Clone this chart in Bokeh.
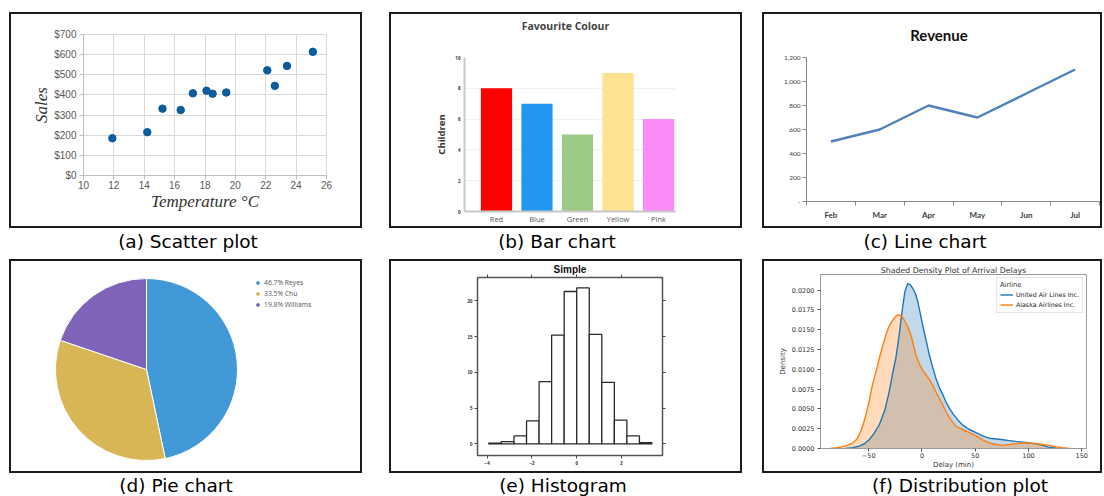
import math
from bokeh.plotting import figure
from bokeh.layouts import row, column
from bokeh.models import (Div, Spacer, Range1d, FixedTicker, NumeralTickFormatter,
                          LinearAxis, Legend, LegendItem, Plot)
from bokeh.embed import file_html
from bokeh.resources import INLINE

# ---------------- data ----------------
# (a) scatter
scatter_temp = [14.2, 16.4, 11.9, 15.2, 18.5, 22.1, 19.4, 25.1, 23.4, 18.1, 22.6, 17.2]
scatter_sales = [215, 325, 185, 332, 406, 522, 412, 614, 544, 421, 445, 408]
scatter_x_ticks = [10, 12, 14, 16, 18, 20, 22, 24, 26]
scatter_y_ticks = [0, 100, 200, 300, 400, 500, 600, 700]

# (b) bar
bar_title = "Favourite Colour"
bar_colours = ["Red", "Blue", "Green", "Yellow", "Pink"]
bar_children = [8, 7, 5, 9, 6]
bar_fill = ["#ff0000", "#2196f3", "#9dca86", "#fde28f", "#fb8cf7"]
bar_y_ticks = [0, 2, 4, 6, 8, 10]

# (c) line
line_title = "Revenue"
line_months = ["Feb", "Mar", "Apr", "May", "Jun", "Jul"]
line_revenue = [500, 600, 800, 700, 900, 1100]
line_y_ticks = [0, 200, 400, 600, 800, 1000, 1200]

# (d) pie
pie_names = ["Reyes", "Chu", "Williams"]
pie_percent = [46.7, 33.5, 19.8]
pie_colors = ["#4299d7", "#d9b655", "#7e63b8"]

# (e) histogram
hist_edges = [-3.93, -3.37, -2.80, -2.24, -1.68, -1.12, -0.56, 0.0,
              0.56, 1.12, 1.68, 2.24, 2.80, 3.36]
hist_heights = [0.1, 0.3, 1.1, 3.2, 8.7, 15.2, 21.3, 21.8, 15.3, 8.6, 3.3, 1.1, 0.15]
hist_x_ticks = [-4, -2, 0, 2]
hist_y_ticks = [0, 5, 10, 15, 20]

# (f) density
united_delay = [-72, -65, -59, -54, -49.5, -45, -40, -35, -31, -27.5, -24.5, -21.5, -18.5,
                -16, -13.5, -11, -8.5, -6, -4, -1.5, 0.5, 4, 7, 10, 13, 16, 19.5, 22.5,
                25.7, 29, 32, 35, 38, 41, 44.5, 50.8, 57, 63, 70, 76, 82, 88, 95, 101,
                107, 113.5, 118, 123, 127]
united_density = [0.0, 0.0001, 0.0003, 0.0006, 0.0011, 0.0019, 0.0030, 0.0048, 0.0070,
                  0.0095, 0.0114, 0.0142, 0.0175, 0.0198, 0.0208, 0.0207, 0.0202, 0.0195,
                  0.0186, 0.0170, 0.0157, 0.0136, 0.0118, 0.0103, 0.0089, 0.0078, 0.0068,
                  0.0059, 0.0051, 0.0044, 0.0039, 0.0034, 0.0030, 0.0027, 0.0024, 0.0020,
                  0.0016, 0.0013, 0.0012, 0.0011, 0.0010, 0.0009, 0.0008, 0.0007, 0.0006,
                  0.0004, 0.0002, 0.0001, 0.0]
alaska_delay = [-86, -80, -75, -70, -65, -61, -58, -55, -52.5, -49.5, -46.5, -43, -40, -37,
                -34, -31, -27.5, -24.5, -22, -19, -16.5, -13.5, -10.3, -8, -5.6, -2.5, 0.6,
                4, 7, 10, 13, 16, 19.5, 22.5, 25.7, 29, 32, 35, 38, 44.5, 50.8, 57, 63, 70,
                76, 82, 88, 95, 101, 107, 113.5, 120, 126, 132, 139]
alaska_density = [0.0, 0.0001, 0.0002, 0.0004, 0.0007, 0.0012, 0.0020, 0.0031, 0.0043,
                  0.0060, 0.0080, 0.0098, 0.0114, 0.0129, 0.0143, 0.0154, 0.0162, 0.0167,
                  0.0169, 0.0167, 0.0162, 0.0154, 0.0143, 0.0131, 0.0118, 0.0107, 0.0099,
                  0.0093, 0.0087, 0.0080, 0.0072, 0.0064, 0.0055, 0.0047, 0.0039, 0.0033,
                  0.0028, 0.0026, 0.0024, 0.0020, 0.0016, 0.0011, 0.0007, 0.0005, 0.0004,
                  0.0005, 0.0006, 0.0007, 0.0007, 0.0006, 0.0005, 0.0004, 0.0002, 0.0001, 0.0]
airlines = ["United Air Lines Inc.", "Alaska Airlines Inc."]
dens_x_ticks = [-50, 0, 50, 100, 150]
dens_y_ticks = [0, 0.0025, 0.005, 0.0075, 0.01, 0.0125, 0.015, 0.0175, 0.02]

captions_top = ["(a) Scatter plot", "(b) Bar chart", "(c) Line chart"]
captions_bottom = ["(d) Pie chart", "(e) Histogram", "(f) Distribution plot"]

# ---------------- helpers ----------------
HAS_FRAME_ALIGN = "frame_align" in Plot.properties()
BORDER = {"border": "2px solid #1c1c1c", "box-sizing": "border-box",
          "background-color": "white"}


def base(width, height, **kw):
    extra = {"frame_align": False} if HAS_FRAME_ALIGN else {}
    p = figure(width=width, height=height, output_backend="svg", toolbar_location=None,
               margin=0, **extra, **kw)
    p.background_fill_color = "white"
    p.border_fill_color = "white"
    return p


def panel(children, width, height):
    return column(*children, width=width, height=height, margin=0, styles=BORDER)


def title_div(text, width, height, pad_top, line_h, shift, font, size, color):
    html = (f'<div style="width:{width}px;padding-top:{pad_top}px;line-height:{line_h}px;'
            f'text-align:center;position:relative;left:{shift}px;font-family:\'{font}\';'
            f'font-size:{size}px;font-weight:bold;color:{color};white-space:nowrap;">'
            f'{text}</div>')
    return Div(text=html, width=width, height=height, margin=0)


# ---------------- (a) scatter ----------------
pa = base(349, 212, x_range=Range1d(scatter_x_ticks[0], scatter_x_ticks[-1]),
          y_range=Range1d(scatter_y_ticks[0], scatter_y_ticks[-1]),
          min_border_left=72, min_border_right=34, min_border_top=20, min_border_bottom=51)
pa.scatter(scatter_temp, scatter_sales, size=7.5, fill_color="#0b5c9e", line_color="#0b5c9e")
pa.xaxis.ticker = FixedTicker(ticks=scatter_x_ticks)
pa.yaxis.ticker = FixedTicker(ticks=scatter_y_ticks)
pa.yaxis.formatter = NumeralTickFormatter(format="$0")
for ax in (pa.xaxis, pa.yaxis):
    ax.axis_line_color = "#bfbfbf"
    ax.major_tick_line_color = "#bfbfbf"
    ax.major_tick_out = 4
    ax.major_tick_in = 0
    ax.minor_tick_line_color = None
    ax.major_label_text_font = "Liberation Sans"
    ax.major_label_text_font_size = "10px"
    ax.major_label_text_color = "#595959"
    ax.axis_label_text_font = "Liberation Serif"
    ax.axis_label_text_font_style = "italic"
    ax.axis_label_text_font_size = "17px"
    ax.axis_label_text_color = "#333333"
pa.xaxis.axis_label = "Temperature °C"
pa.yaxis.axis_label = "Sales"
pa.xaxis.major_label_standoff = 1
pa.yaxis.major_label_standoff = 3
pa.xaxis.axis_label_standoff = 0
pa.yaxis.axis_label_standoff = 0
pa.grid.grid_line_color = "#d9d9d9"
pa.outline_line_color = "#d9d9d9"

# ---------------- (b) bar ----------------
pb = base(349, 188, x_range=Range1d(-0.79, len(bar_colours) - 0.58), y_range=Range1d(0, 10),
          min_border_left=73, min_border_right=65, min_border_top=19, min_border_bottom=14)
bar_pos = list(range(len(bar_colours)))
pb.vbar(x=bar_pos, top=bar_children, width=0.77, fill_color=bar_fill, line_color=None)
pb.xaxis.ticker = FixedTicker(ticks=bar_pos)
pb.xaxis.major_label_overrides = {i: n for i, n in zip(bar_pos, bar_colours)}
pb.yaxis.ticker = FixedTicker(ticks=bar_y_ticks)
for ax in (pb.xaxis, pb.yaxis):
    ax.axis_line_color = "#c8c8c8"
    ax.axis_line_width = 2
    ax.major_tick_line_color = None
    ax.major_tick_out = 0
    ax.major_tick_in = 0
    ax.minor_tick_line_color = None
    ax.minor_tick_out = 0
pb.xaxis.major_label_text_font = "Open Sans"
pb.xaxis.major_label_text_font_size = "7.5px"
pb.xaxis.major_label_text_color = "#555555"
pb.xaxis.major_label_standoff = 2
pb.yaxis.major_label_text_font = "Open Sans"
pb.yaxis.major_label_text_font_size = "4.5px"
pb.yaxis.major_label_text_font_style = "bold"
pb.yaxis.major_label_text_color = "#333333"
pb.yaxis.major_label_standoff = 4
pb.yaxis.axis_label = "Children"
pb.yaxis.axis_label_text_font = "Open Sans"
pb.yaxis.axis_label_text_font_size = "9.5px"
pb.yaxis.axis_label_text_font_style = "bold"
pb.yaxis.axis_label_text_color = "#333333"
pb.yaxis.axis_label_standoff = 4
pb.xgrid.visible = False
pb.ygrid.grid_line_color = "#f0f0f0"
pb.outline_line_color = None
pb_title = title_div(bar_title, 349, 24, 2, 20, 0, "Open Sans", 10.5, "#444444")

# ---------------- (c) line ----------------
pc = base(336, 180, x_range=Range1d(-0.5, len(line_months) - 0.5),
          y_range=Range1d(line_y_ticks[0], line_y_ticks[-1]),
          min_border_left=42, min_border_right=1, min_border_top=11, min_border_bottom=25)
month_pos = list(range(len(line_months)))
pc.line(month_pos, line_revenue, line_color="#4f81bd", line_width=2.5)
pc.xaxis.ticker = FixedTicker(ticks=month_pos,
                              minor_ticks=[i - 0.5 for i in range(len(line_months) + 1)])
pc.xaxis.major_label_overrides = {i: m for i, m in zip(month_pos, line_months)}
pc.yaxis.ticker = FixedTicker(ticks=line_y_ticks)
pc.yaxis.formatter = NumeralTickFormatter(format="0,0")
pc.yaxis.major_label_overrides = {0: "-"}
for ax in (pc.xaxis, pc.yaxis):
    ax.axis_line_color = "#868686"
    ax.major_label_text_font = "Lato"
    ax.major_label_text_color = "#404040"
pc.xaxis.major_tick_line_color = None
pc.xaxis.major_tick_out = 0
pc.xaxis.minor_tick_line_color = "#868686"
pc.xaxis.minor_tick_out = 4
pc.xaxis.minor_tick_in = 0
pc.xaxis.major_label_standoff = 4
pc.xaxis.major_label_text_font_size = "8px"
pc.xaxis.major_label_text_font_style = "bold"
pc.yaxis.major_tick_line_color = "#868686"
pc.yaxis.major_tick_out = 4
pc.yaxis.major_tick_in = 0
pc.yaxis.minor_tick_line_color = None
pc.yaxis.major_label_standoff = 2
pc.yaxis.major_label_text_font_size = "6.5px"
pc.grid.visible = False
pc.outline_line_color = None
pc_title = title_div(line_title, 336, 32, 11, 20, 7, "Lato", 15, "#111111")

# ---------------- (d) pie ----------------
pdp = base(349, 210, x_range=Range1d(-135 / 91, 214 / 91), y_range=Range1d(-102 / 91, 108 / 91),
           x_axis_location=None, y_axis_location=None, min_border=0)
pdp.grid.visible = False
pdp.outline_line_color = None
starts, ends, cum = [], [], 0.0
for pct in pie_percent:
    starts.append(math.pi / 2 - 2 * math.pi * cum / 100)
    cum += pct
    ends.append(math.pi / 2 - 2 * math.pi * cum / 100)
pdp.wedge(x=0, y=0, radius=1, start_angle=starts, end_angle=ends, direction="clock",
          fill_color=pie_colors, line_color="white", line_width=1)
pie_items = []
for name, pct, col in zip(pie_names, pie_percent, pie_colors):
    r = pdp.scatter(x=[float("nan")], y=[float("nan")], marker="circle", size=5.5,
                    fill_color=col, line_color=col)
    pie_items.append(LegendItem(label=f"{pct}% {name}", renderers=[r]))
pie_legend = Legend(items=pie_items, location=(243, 161), padding=0, margin=0, spacing=0,
                    label_height=11, glyph_height=11, glyph_width=7, label_standoff=3,
                    label_text_font="Open Sans", label_text_font_size="6.8px",
                    label_text_color="#555555", border_line_color=None,
                    background_fill_alpha=0)
pdp.add_layout(pie_legend)

# ---------------- (e) histogram ----------------
pe = base(349, 210, x_range=Range1d(-4.43, 3.83), y_range=Range1d(-1.64, 23.26),
          min_border_left=86, min_border_right=78, min_border_top=16, min_border_bottom=16,
          title="Simple")
pe.quad(left=hist_edges[:-1], right=hist_edges[1:], bottom=0, top=hist_heights,
        fill_color="white", line_color="#2a2a2a", line_width=1.3)
pe.add_layout(LinearAxis(), "right")
pe.add_layout(LinearAxis(), "above")
for ax in pe.xaxis:
    ax.ticker = FixedTicker(ticks=hist_x_ticks)
for ax in pe.yaxis:
    ax.ticker = FixedTicker(ticks=hist_y_ticks)
for ax in pe.xaxis + pe.yaxis:
    ax.axis_line_color = None
    ax.major_tick_line_color = "#444444"
    ax.major_tick_out = 3
    ax.major_tick_in = 0
    ax.minor_tick_line_color = None
    ax.major_label_text_font = "Liberation Sans"
    ax.major_label_text_font_size = "4.5px"
    ax.major_label_text_font_style = "bold"
    ax.major_label_text_color = "#222222"
    ax.major_label_standoff = 2
pe.right[0].major_label_overrides = {t: "" for t in hist_y_ticks}
pe.above[0].major_label_overrides = {t: "" for t in hist_x_ticks}
pe.right[0].major_label_standoff = 0
pe.above[0].major_label_standoff = 0
pe.grid.visible = False
pe.outline_line_color = "#555555"
pe.outline_line_width = 1.5
pe.title.align = "center"
pe.title.text_font = "Liberation Sans"
pe.title.text_font_size = "10px"
pe.title.text_font_style = "bold"
pe.title.text_color = "#111111"
pe.title.standoff = 0

# ---------------- (f) density ----------------
pf = base(336, 210, x_range=Range1d(-95.2, 154.4), y_range=Range1d(0, 0.02197),
          min_border_left=56, min_border_right=14, min_border_top=13, min_border_bottom=22,
          title="Shaded Density Plot of Arrival Delays")
pf.varea(x=united_delay, y1=0, y2=united_density, fill_color="#1f77b4", fill_alpha=0.28)
pf.varea(x=alaska_delay, y1=0, y2=alaska_density, fill_color="#ff7f0e", fill_alpha=0.28)
ru = pf.line(united_delay, united_density, line_color="#1f77b4", line_width=1.4)
ra = pf.line(alaska_delay, alaska_density, line_color="#ff7f0e", line_width=1.4)
pf_legend = Legend(items=[LegendItem(label=airlines[0], renderers=[ru]),
                          LegendItem(label=airlines[1], renderers=[ra])],
                   location="top_right", title="Airline", margin=3, padding=3, spacing=1,
                   label_height=9, glyph_height=9, glyph_width=13, label_standoff=3,
                   title_standoff=1,
                   label_text_font="DejaVu Sans", label_text_font_size="6.3px",
                   label_text_color="#222222", title_text_font="DejaVu Sans",
                   title_text_font_size="6.8px", title_text_font_style="normal",
                   title_text_color="#333333", border_line_color="#cccccc",
                   background_fill_alpha=0.85)
pf.add_layout(pf_legend)
pf.xaxis.ticker = FixedTicker(ticks=dens_x_ticks)
pf.xaxis.major_label_overrides = {t: (f"\u2212{abs(t)}" if t < 0 else str(t)) for t in dens_x_ticks}
pf.yaxis.ticker = FixedTicker(ticks=dens_y_ticks)
pf.yaxis.formatter = NumeralTickFormatter(format="0.0000")
for ax in (pf.xaxis, pf.yaxis):
    ax.axis_line_color = "#9a9a9a"
    ax.major_tick_line_color = "#555555"
    ax.major_tick_out = 3
    ax.major_tick_in = 0
    ax.minor_tick_line_color = None
    ax.major_label_text_font = "DejaVu Sans"
    ax.major_label_text_font_size = "6.5px"
    ax.major_label_text_color = "#333333"
    ax.major_label_standoff = 1
    ax.axis_label_text_font = "DejaVu Sans"
    ax.axis_label_text_font_size = "7px"
    ax.axis_label_text_font_style = "normal"
    ax.axis_label_text_color = "#333333"
    ax.axis_label_standoff = 0
pf.yaxis.major_label_standoff = 3
pf.yaxis.axis_label_standoff = 2
pf.xaxis.axis_label = "Delay (min)"
pf.yaxis.axis_label = "Density"
pf.grid.visible = False
pf.outline_line_color = "#9a9a9a"
pf.title.align = "center"
pf.title.text_font = "DejaVu Sans"
pf.title.text_font_size = "7.8px"
pf.title.text_font_style = "normal"
pf.title.text_color = "#333333"
pf.title.standoff = 0


# ---------------- captions ----------------
def caption_row(texts, centers, height, pad):
    inner = "".join(
        f'<div style="position:absolute;left:{c - 160}px;top:{pad}px;width:320px;'
        f'text-align:center;white-space:nowrap;">{t}</div>'
        for t, c in zip(texts, centers))
    html = (f'<div style="position:relative;width:1102px;height:{height}px;'
            f'font-family:\'DejaVu Sans\',sans-serif;font-size:18.5px;line-height:22px;'
            f'color:#000;">{inner}</div>')
    return Div(text=html, width=1102, height=height, margin=0)


cap_top = caption_row(captions_top, [188, 557, 925], 31, 2.5)
cap_bottom = caption_row(captions_bottom, [176, 563, 960], 22, 1.5)

top_row = row(Spacer(width=9, height=216, margin=0), panel([pa], 353, 216),
              Spacer(width=27, height=216, margin=0), panel([pb_title, pb], 353, 216),
              Spacer(width=20, height=216, margin=0), panel([pc_title, pc], 340, 216),
              margin=0)
bottom_row = row(Spacer(width=9, height=214, margin=0), panel([pdp], 353, 214),
                 Spacer(width=27, height=214, margin=0), panel([pe], 353, 214),
                 Spacer(width=20, height=214, margin=0), panel([pf], 340, 214),
                 margin=0)
page = column(Spacer(width=1102, height=12, margin=0), top_row, cap_top, bottom_row, cap_bottom,
              margin=0)

open("out.html", "w").write(file_html(page, INLINE))
